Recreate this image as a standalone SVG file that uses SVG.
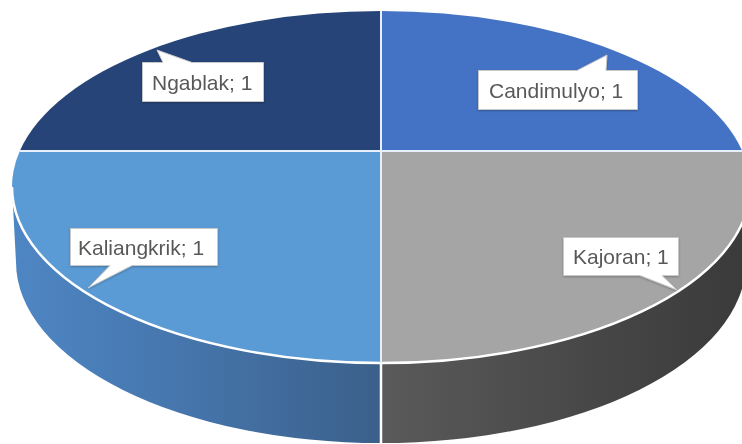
<svg xmlns="http://www.w3.org/2000/svg" width="742" height="444" viewBox="0 0 742 444">
  <style>
    .lbl { font-family: "Liberation Sans", Arial, sans-serif; font-size: 21px; fill: #595959; }
    .callout { fill: #ffffff; stroke: #c8c8c8; stroke-width: 1; }
    .edge { fill: none; stroke: #ffffff; stroke-width: 2.5; }
    .div { fill: none; stroke: #e8f0fb; stroke-width: 2; }
  </style>
  <defs>
    <linearGradient id="sideBlue" x1="12" y1="0" x2="381" y2="0" gradientUnits="userSpaceOnUse">
      <stop offset="0" stop-color="#4E86C4"/>
      <stop offset="0.5" stop-color="#4574AA"/>
      <stop offset="1" stop-color="#3B608A"/>
    </linearGradient>
    <linearGradient id="sideGray" x1="381" y1="0" x2="750" y2="0" gradientUnits="userSpaceOnUse">
      <stop offset="0" stop-color="#5A5A5A"/>
      <stop offset="0.6" stop-color="#464646"/>
      <stop offset="1" stop-color="#3A3A3A"/>
    </linearGradient>
    <filter id="sh" x="-10%" y="-10%" width="120%" height="130%">
      <feDropShadow dx="0" dy="1" stdDeviation="1" flood-color="#000" flood-opacity="0.25"/>
    </filter>
  </defs>

  <!-- sides -->
  <g id="side-kaliangkrik">
    <path d="M12,187 A369,176 0 0,0 381,363 L381,443 A365,181 0 0,1 16,262 Z" fill="url(#sideBlue)"/>
  </g>
  <g id="side-kajoran">
    <path d="M381,363 A369,176 0 0,0 750,187 L746,262 A365,181 0 0,1 381,443 Z" fill="url(#sideGray)"/>
  </g>

  <!-- top faces -->
  <g id="ngablak">
    <path d="M381,151 L19.8,151 A369,176 0 0,1 381,11 Z" fill="#264478"/>
  </g>
  <g id="candimulyo">
    <path d="M381,151 L381,11 A369,176 0 0,1 742.2,151 Z" fill="#4472C4"/>
  </g>
  <g id="kajoran">
    <path d="M381,151 L742.2,151 A369,176 0 0,1 381,363 Z" fill="#A5A5A5"/>
  </g>
  <g id="kaliangkrik">
    <path d="M381,151 L381,363 A369,176 0 0,1 19.8,151 Z" fill="#5B9BD5"/>
  </g>

  <!-- edges / dividers -->
  <g id="connectors">
    <path class="edge" d="M12,187 A369,176 0 0,0 750,187"/>
    <line class="edge" x1="381" y1="363" x2="381" y2="444"/>
    <line class="div" x1="19.8" y1="151" x2="742.2" y2="151"/>
    <line class="div" x1="381" y1="11" x2="381" y2="363"/>
  </g>

  <!-- labels -->
  <g id="label-ngablak" filter="url(#sh)">
    <path class="callout" d="M142.5,62.5 L163,62.5 L157,50 L192,62.5 L263.5,62.5 L263.5,101.5 L142.5,101.5 Z"/>
    <text class="lbl" x="152" y="90">Ngablak; 1</text>
  </g>
  <g id="label-candimulyo" filter="url(#sh)">
    <path class="callout" d="M478.5,70.5 L577,70.5 L607,55 L606,70.5 L637.5,70.5 L637.5,109.5 L478.5,109.5 Z"/>
    <text class="lbl" x="489" y="98">Candimulyo; 1</text>
  </g>
  <g id="label-kaliangkrik" filter="url(#sh)">
    <path class="callout" d="M70.5,228.5 L217.5,228.5 L217.5,265.5 L132,265.5 L88,288 L110,265.5 L70.5,265.5 Z"/>
    <text class="lbl" x="78" y="255">Kaliangkrik; 1</text>
  </g>
  <g id="label-kajoran" filter="url(#sh)">
    <path class="callout" d="M563.5,237.5 L678.5,237.5 L678.5,275.5 L662,275.5 L677,290 L640,275.5 L563.5,275.5 Z"/>
    <text class="lbl" x="573" y="264">Kajoran; 1</text>
  </g>
</svg>
